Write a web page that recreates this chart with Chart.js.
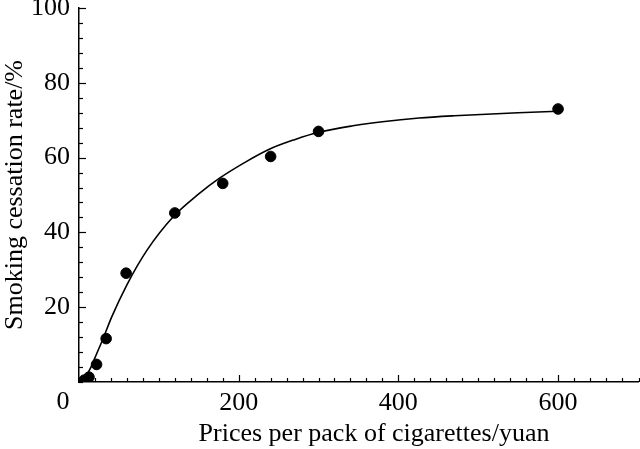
<!DOCTYPE html>
<html>
<head>
<meta charset="utf-8">
<script src="https://cdn.jsdelivr.net/npm/chart.js@4"></script>
<style>
  html, body { margin: 0; padding: 0; background: #fff; overflow: hidden; }
  #wrap { width: 645px; height: 449px; position: relative; }
</style>
</head>
<body>
<div id="wrap"><canvas id="chart"></canvas></div>
<script>
// Observed points (price per pack, cessation rate %)
const priceValues = [6.5, 12.5, 22, 34, 59, 120, 180, 240, 300, 600];
const rateValues = [0.5, 1.3, 4.7, 11.6, 29.1, 45.2, 53.1, 60.3, 67, 73];

// Fitted curve
const fitPrices = [5, 10, 15, 22, 30, 41, 60, 85, 118, 150, 176, 210, 239, 270, 299, 343, 380, 426, 470, 510, 550, 600];
const fitRates = [0, 2, 4, 7.5, 11.5, 17.4, 26, 35.2, 44.2, 50.3, 54.5, 59, 62.3, 64.8, 66.7, 68.5, 69.6, 70.6, 71.2, 71.6, 72, 72.4];

// Tick labels
const xTickLabels = [200, 400, 600];
const yTickLabels = [20, 40, 60, 80, 100];
const xTitle = 'Prices per pack of cigarettes/yuan';
const yTitle = 'Smoking cessation rate/%';

const serif = "'Liberation Serif', 'Times New Roman', serif";

function toPoints(xs, ys) {
    return xs.map((x, i) => ({ x: x, y: ys[i] }));
}

// Inward tick marks, origin label and x title
const innerTicks = {
    id: 'innerTicks',
    afterDraw(chart) {
        const ctx = chart.ctx;
        const xs = chart.scales.x;
        const ys = chart.scales.y;
        const area = chart.chartArea;
        ctx.save();
        ctx.strokeStyle = '#000';
        ctx.lineWidth = 1.2;
        xs.ticks.forEach(t => {
            const px = Math.round(xs.getPixelForValue(t.value)) + 0.5;
            const len = xTickLabels.includes(t.value) ? 7 : 4;
            ctx.beginPath();
            ctx.moveTo(px, area.bottom);
            ctx.lineTo(px, area.bottom - len);
            ctx.stroke();
        });
        ys.ticks.forEach(t => {
            const py = Math.round(ys.getPixelForValue(t.value)) + 0.5;
            const len = yTickLabels.includes(t.value) ? 7 : 4;
            ctx.beginPath();
            ctx.moveTo(area.left, py);
            ctx.lineTo(area.left + len, py);
            ctx.stroke();
        });
        ctx.fillStyle = '#000';
        ctx.textAlign = 'center';
        ctx.textBaseline = 'middle';
        // shared origin label
        ctx.font = '26px ' + serif;
        ctx.fillText('0', area.left - 16, area.bottom + 20);
        // x axis title
        ctx.fillText(xTitle, 374, 434);
        ctx.restore();
    }
};

new Chart(document.getElementById('chart'), {
    type: 'scatter',
    data: {
        datasets: [{
            label: 'Fit',
            data: toPoints(fitPrices, fitRates),
            showLine: true,
            borderColor: '#000',
            borderWidth: 1.6,
            pointRadius: 0,
            cubicInterpolationMode: 'monotone',
            fill: false
        }, {
            label: 'Observed',
            data: toPoints(priceValues, rateValues),
            backgroundColor: '#000',
            borderColor: '#000',
            pointRadius: 5.3,
            pointHoverRadius: 5.3
        }]
    },
    options: {
        responsive: true,
        maintainAspectRatio: false,
        animation: false,
        layout: { padding: { top: 8, right: 0, left: 0, bottom: 0 } },
        plugins: {
            legend: { display: false },
            tooltip: { enabled: false }
        },
        scales: {
            x: {
                type: 'linear',
                min: 0,
                max: 701,
                afterFit(scale) {
                    scale.height = 67;
                    scale.paddingLeft = 0;
                    scale.paddingRight = 0;
                },
                grid: { display: false, drawTicks: false },
                border: { display: true, color: '#000', width: 1.5 },
                ticks: {
                    stepSize: 20,
                    autoSkip: false,
                    maxRotation: 0,
                    padding: 6,
                    color: '#000',
                    font: { family: serif, size: 26 },
                    callback: v => xTickLabels.includes(v) ? String(v) : ''
                },
                title: { display: false }
            },
            y: {
                type: 'linear',
                min: 0,
                max: 100,
                afterFit(scale) {
                    scale.width = 79;
                    scale.paddingTop = 0;
                    scale.paddingBottom = 0;
                },
                grid: { display: false, drawTicks: false },
                border: { display: true, color: '#000', width: 1.5 },
                ticks: {
                    stepSize: 4,
                    autoSkip: false,
                    padding: 9,
                    color: '#000',
                    font: { family: serif, size: 26 },
                    callback: v => yTickLabels.includes(v) ? String(v) : ''
                },
                title: {
                    display: true,
                    text: yTitle,
                    color: '#000',
                    font: { family: serif, size: 26 },
                    padding: { top: 0, bottom: 0 }
                }
            }
        }
    },
    plugins: [innerTicks]
});
</script>
</body>
</html>
